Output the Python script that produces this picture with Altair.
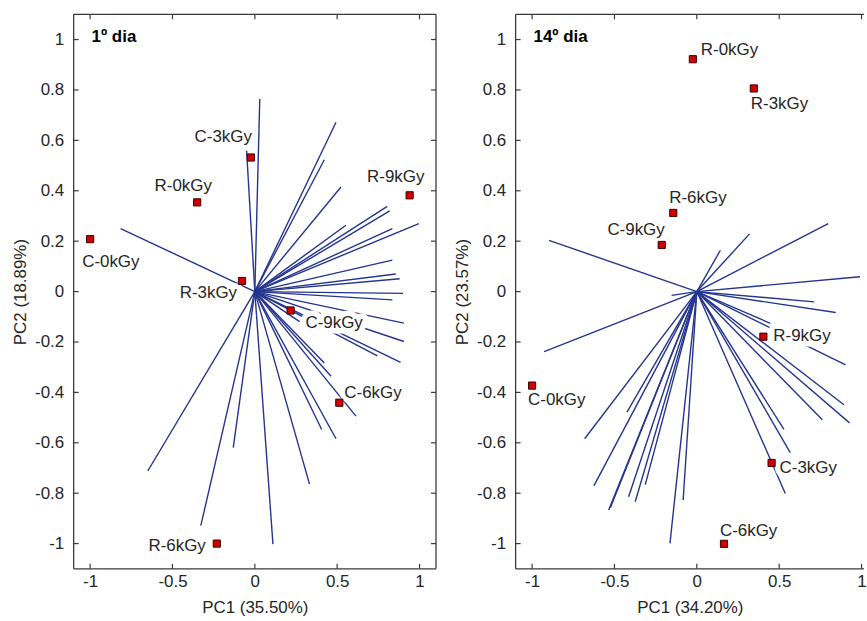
import altair as alt
import pandas as pd

# ---------------- Day 1 (left panel) ----------------
day1_labels = ["C-0kGy", "R-0kGy", "C-3kGy", "R-3kGy", "R-9kGy", "C-9kGy", "C-6kGy", "R-6kGy"]
day1_pc1 = [-1.0, -0.35, -0.024, -0.078, 0.94, 0.217, 0.513, -0.231]
day1_pc2 = [0.208, 0.354, 0.532, 0.042, 0.382, -0.075, -0.441, -1.0]

day1_load_pc1 = [-0.815, 0.030, -0.050, 0.493, 0.422, 0.523, 0.804, 0.819, 0.553, 0.835,
                 0.996, 0.835, 0.856, 0.880, 0.900, 0.835, 0.272, 0.905, 0.905, 0.885,
                 0.744, 0.422, 0.463, 0.614, 0.493, 0.406, 0.332, 0.110, -0.131, -0.328, -0.650]
day1_load_pc2 = [0.250, 0.764, 0.560, 0.672, 0.523, 0.415, 0.338, 0.320, 0.263, 0.250,
                 0.270, 0.125, 0.070, 0.051, -0.007, -0.033, -0.119, -0.125, -0.198, -0.281,
                 -0.255, -0.283, -0.336, -0.494, -0.584, -0.547, -0.764, -1.002, -0.619, -0.929, -0.712]

# ---------------- Day 14 (right panel) ----------------
day14_labels = ["R-0kGy", "R-3kGy", "R-6kGy", "C-9kGy", "C-0kGy", "R-9kGy", "C-3kGy", "C-6kGy"]
day14_pc1 = [-0.024, 0.346, -0.143, -0.213, -1.0, 0.404, 0.454, 0.165]
day14_pc2 = [0.922, 0.806, 0.312, 0.185, -0.373, -0.179, -0.680, -1.001]

day14_load_pc1 = [-0.897, 0.143, 0.320, 0.798, 0.991, 0.712, 0.843, -0.153, -0.927, 0.446,
                  0.903, 0.893, 0.927, 0.762, 0.529, 0.567, 0.537, -0.083, -0.163, -0.313,
                  -0.374, -0.414, -0.535, -0.525, -0.625, -0.681, -0.424]
day14_load_pc2 = [0.203, 0.164, 0.229, 0.270, 0.059, -0.041, -0.083, -0.015, -0.238, -0.126,
                  -0.291, -0.449, -0.521, -0.509, -0.547, -0.639, -0.801, -0.827, -0.999, -0.766,
                  -0.834, -0.814, -0.867, -0.858, -0.771, -0.584, -0.478]

x_ticks = [-1, -0.5, 0, 0.5, 1]
y_ticks = [-1, -0.8, -0.6, -0.4, -0.2, 0, 0.2, 0.4, 0.6, 0.8, 1]

# label placement (pixel offsets, alignment) -- styling, not data
place_day1 = {
    "C-0kGy": ("left", -8, 23),
    "R-0kGy": ("center", -14, -16),
    "C-3kGy": ("right", 1, -21),
    "R-3kGy": ("right", -5, 12),
    "R-9kGy": ("center", -14, -18),
    "C-9kGy": ("left", 15, 13),
    "C-6kGy": ("left", 5, -10),
    "R-6kGy": ("right", -11, 2),
}
place_day14 = {
    "R-0kGy": ("left", 8, -9),
    "R-3kGy": ("left", -3, 16),
    "R-6kGy": ("left", -4, -15),
    "C-9kGy": ("right", 3, -15),
    "C-0kGy": ("left", -4, 15),
    "R-9kGy": ("left", 10, -1),
    "C-3kGy": ("left", 8, 5),
    "C-6kGy": ("left", -4, -13),
}

FONT = "Liberation Sans"
FS = 17
TXT = "#262626"
BOX = "#3a3a3a"
LINE = "#25358f"
H = 557


def panel(labels, pc1, pc2, lpc1, lpc2, xtitle, ytitle, tag, width, xmax, placements, right_box):
    xs = alt.Scale(domain=[-1.1, xmax], nice=False, zero=False)
    ys = alt.Scale(domain=[-1.1, 1.1], nice=False, zero=False)
    xaxis = alt.Axis(values=x_ticks, labelExpr="toString(datum.value)", grid=False,
                     domain=False, ticks=False, tickSize=0, labelPadding=5,
                     titlePadding=10, labelFlush=False, labelOverlap=False)
    yaxis = alt.Axis(values=y_ticks, labelExpr="toString(datum.value)", grid=False,
                     domain=False, ticks=False, tickSize=0, labelPadding=10,
                     titlePadding=5, labelFlush=False, labelOverlap=False)

    def X(f):
        return alt.X(f, scale=xs, axis=xaxis, title=xtitle)

    def Y(f):
        return alt.Y(f, scale=ys, axis=yaxis, title=ytitle)

    pts = pd.DataFrame({"label": labels, "pc1": pc1, "pc2": pc2})
    vec = pd.DataFrame({"o1": [0.0] * len(lpc1), "o2": [0.0] * len(lpc2), "l1": lpc1, "l2": lpc2})
    dummy = pd.DataFrame({"a": [0]})
    xt = pd.DataFrame({"v": x_ticks})
    yt = pd.DataFrame({"v": y_ticks})

    layers = []
    vectors = alt.Chart(vec).mark_rule(color=LINE, strokeWidth=1.4).encode(
        x=X("o1:Q"), x2="l1:Q", y=Y("o2:Q"), y2="l2:Q",
    )
    layers.append(vectors)

    # halos (label background) then points, then texts
    for name in labels:
        al, dx, dy = placements[name]
        layers.append(
            alt.Chart(pts).transform_filter(alt.datum.label == name).mark_text(
                align=al, baseline="middle", dx=dx, dy=dy, font=FONT, fontSize=FS,
                stroke="white", strokeWidth=11, strokeJoin="round", fill="white"
            ).encode(x=X("pc1:Q"), y=Y("pc2:Q"), text="label:N")
        )

    points = alt.Chart(pts).mark_square(
        size=52, filled=True, color="#d10000", stroke="#3a0000", strokeWidth=1, opacity=1
    ).encode(x=X("pc1:Q"), y=Y("pc2:Q"))
    layers.append(points)

    for name in labels:
        al, dx, dy = placements[name]
        layers.append(
            alt.Chart(pts).transform_filter(alt.datum.label == name).mark_text(
                align=al, baseline="middle", dx=dx, dy=dy, font=FONT, fontSize=FS, color=TXT
            ).encode(x=X("pc1:Q"), y=Y("pc2:Q"), text="label:N")
        )

    # box
    layers.append(alt.Chart(dummy).mark_rule(color=BOX, strokeWidth=1.3).encode(
        x=alt.value(0), x2=alt.value(width), y=alt.value(H)))
    layers.append(alt.Chart(dummy).mark_rule(color=BOX, strokeWidth=1.3).encode(
        x=alt.value(0), x2=alt.value(width), y=alt.value(0)))
    layers.append(alt.Chart(dummy).mark_rule(color=BOX, strokeWidth=1.3).encode(
        x=alt.value(0), y=alt.value(0), y2=alt.value(H)))
    if right_box:
        layers.append(alt.Chart(dummy).mark_rule(color=BOX, strokeWidth=1.3).encode(
            x=alt.value(width), y=alt.value(0), y2=alt.value(H)))

    # inward ticks
    layers.append(alt.Chart(xt).mark_rule(color=BOX, strokeWidth=1.2).encode(
        x=X("v:Q"), y=alt.value(H), y2=alt.value(H - 5)))
    layers.append(alt.Chart(xt).mark_rule(color=BOX, strokeWidth=1.2).encode(
        x=X("v:Q"), y=alt.value(0), y2=alt.value(5)))
    layers.append(alt.Chart(yt).mark_rule(color=BOX, strokeWidth=1.2).encode(
        y=Y("v:Q"), x=alt.value(0), x2=alt.value(5)))
    if right_box:
        layers.append(alt.Chart(yt).mark_rule(color=BOX, strokeWidth=1.2).encode(
            y=Y("v:Q"), x=alt.value(width), x2=alt.value(width - 5)))

    # panel tag
    layers.append(alt.Chart(dummy).mark_text(
        align="left", baseline="middle", font=FONT, fontSize=17, fontWeight="bold", color="black"
    ).encode(x=alt.value(18), y=alt.value(23), text=alt.value(tag)))

    return alt.layer(*layers).properties(width=width, height=H)


left = panel(day1_labels, day1_pc1, day1_pc2, day1_load_pc1, day1_load_pc2,
             "PC1 (35.50%)", "PC2 (18.89%)", "1º dia", 364, 1.1, place_day1, True)
right = panel(day14_labels, day14_pc1, day14_pc2, day14_load_pc1, day14_load_pc2,
              "PC1 (34.20%)", "PC2 (23.57%)", "14º dia", 350, 1.015, place_day14, False)

chart = alt.hconcat(left, right, spacing=16).properties(
    padding={"left": 11, "top": 12, "right": 0, "bottom": 0},
    background="white",
).configure_view(strokeWidth=0).configure_axis(
    labelFont=FONT, labelFontSize=FS, labelColor=TXT,
    titleFont=FONT, titleFontSize=FS, titleColor=TXT, titleFontWeight="normal",
)

chart.save("out.html", embed_options={"renderer": "svg", "actions": False})
